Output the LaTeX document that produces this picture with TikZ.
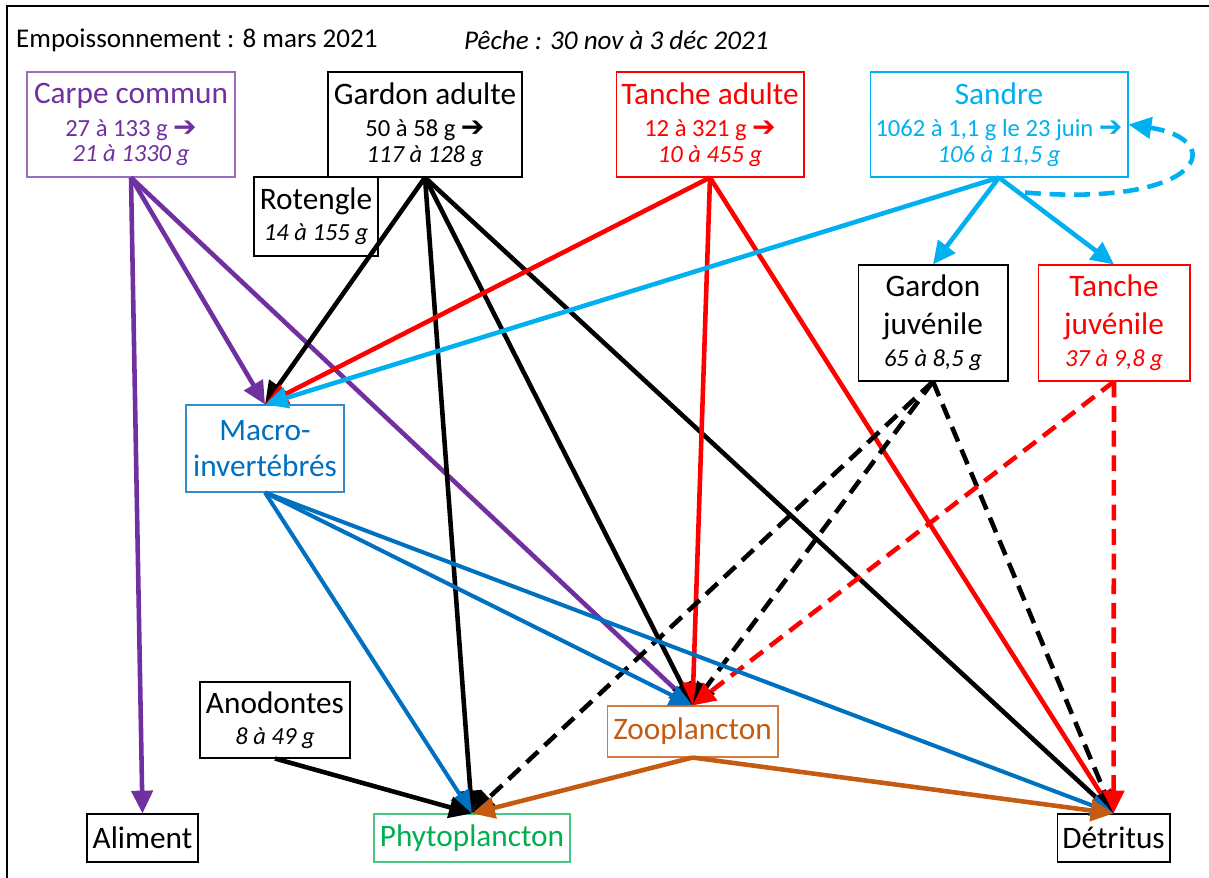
\documentclass[tikz,border=0pt]{standalone}
\usepackage{fontspec}
\setmainfont{Carlito}
\newfontfamily\dejavu{DejaVu Sans}
\usetikzlibrary{arrows.meta}

\definecolor{violetC}{RGB}{112,48,160}
\definecolor{rougeT}{RGB}{255,0,0}
\definecolor{cyanS}{RGB}{0,176,240}
\definecolor{bleuM}{RGB}{0,112,192}
\definecolor{brunZ}{RGB}{197,90,17}
\definecolor{vertP}{RGB}{0,176,80}

\newcommand{\titre}[1]{{\fontsize{17.8}{21}\selectfont #1}}
\newcommand{\fleche}{{\dejavu\bfseries\fontsize{16}{14}\selectfont ➔}}

\begin{document}
\begin{tikzpicture}[x=0.02cm, y=-0.02cm,
  boite/.style={draw, fill=white, line width=0.6pt, align=center, inner sep=1pt,
    font=\fontsize{14}{14.5}\selectfont},
  fl/.style={-{Triangle[length=13pt,width=12pt]}, line width=2.6pt},
  tirets/.style={dash pattern=on 9pt off 5pt}]
\useasboundingbox (0,0) rectangle (1209,878);
\draw[line width=1.2pt] (1209,6) -- (7,6) -- (7,878);

\node[anchor=west, font=\fontsize{15.4}{18}\selectfont] (empo) at (10,40) {Empoissonnement : 8 mars 2021};
\node[anchor=west, font=\fontsize{15.4}{18}\selectfont\itshape] (peche) at (458,40) {Pêche : 30 nov à 3 déc 2021};

% poissons
\node[boite, draw=violetC!70, text=violetC, minimum width=4.16cm, minimum height=2.1cm] (carpe) at (131,124.5)
  {\titre{Carpe commun}\\[4pt] 27 à 133 g \fleche\\ \textit{21 à 1330 g}};
\node[boite, minimum width=3.88cm, minimum height=2.1cm] (gardon) at (425,124.5)
  {\titre{Gardon adulte}\\[4pt] 50 à 58 g \fleche\\ \textit{117 à 128 g}};
\node[boite, draw=rougeT, text=rougeT, minimum width=3.76cm, minimum height=2.1cm] (tanche) at (710,124.5)
  {\titre{Tanche adulte}\\[4pt] 12 à 321 g \fleche\\ \textit{10 à 455 g}};
\node[boite, draw=cyanS, text=cyanS, minimum width=5.16cm, minimum height=2.1cm] (sandre) at (999,124.5)
  {\titre{Sandre}\\[4pt] 1062 à 1,1 g le 23 juin \fleche\\ \textit{106 à 11,5 g}};
\node[boite, minimum width=2.48cm, minimum height=1.58cm] (rotengle) at (316,216.5)
  {\titre{Rotengle}\\[3pt] \textit{14 à 155 g}};
\node[boite, minimum width=3cm, minimum height=2.32cm] (gjuv) at (933,323)
  {\titre{Gardon}\\[7pt] \titre{juvénile}\\[4pt] \textit{65 à 8,5 g}};
\node[boite, draw=rougeT, text=rougeT, minimum width=3.04cm, minimum height=2.32cm] (tjuv) at (1114,323)
  {\titre{Tanche}\\[7pt] \titre{juvénile}\\[4pt] \textit{37 à 9,8 g}};

% ressources
\node[boite, draw=bleuM!80, text=bleuM, minimum width=3.16cm, minimum height=1.74cm] (macro) at (265,448.5)
  {\titre{Macro-}\\[6pt] \titre{invertébrés}};
\node[boite, minimum width=3cm, minimum height=1.52cm] (anodontes) at (275,720)
  {\titre{Anodontes}\\[3pt] \textit{8 à 49 g}};
\node[boite, draw=brunZ!80, text=brunZ, minimum width=3.42cm, minimum height=1.02cm] (zoo) at (692.5,731.5)
  {\titre{Zooplancton}};
\node[boite, minimum width=2.22cm, minimum height=0.96cm] (aliment) at (142.5,838) {\titre{Aliment}};
\node[boite, draw=vertP!70, text=vertP, minimum width=3.92cm, minimum height=0.96cm] (phyto) at (472,838)
  {\titre{Phytoplancton}};
\node[boite, minimum width=2.26cm, minimum height=0.96cm] (detritus) at (1113.5,838) {\titre{Détritus}};

% carpe
\draw[fl, violetC] (carpe.south) -- (aliment.north);
\draw[fl, violetC] (carpe.south) -- (macro.north);
\draw[fl, violetC] (carpe.south) -- (zoo.north);
% gardon adulte
\draw[fl] (gardon.south) -- (macro.north);
\draw[fl] (gardon.south) -- (phyto.north);
\draw[fl] (gardon.south) -- (zoo.north);
\draw[fl] (gardon.south) -- (detritus.north);
% tanche adulte
\draw[fl, rougeT] (tanche.south) -- (macro.north);
\draw[fl, rougeT] (tanche.south) -- (zoo.north);
\draw[fl, rougeT] (tanche.south) -- (detritus.north);
% sandre
\draw[fl, cyanS] (sandre.south) -- (macro.north);
\draw[fl, cyanS] (sandre.south) -- (gjuv.north);
\draw[fl, cyanS] (sandre.south) -- (tjuv.north);
\draw[fl, cyanS, tirets] ([shift={(26,15)}]sandre.south) .. controls +(180,15) and +(100,15) .. (sandre.east);
% juveniles
\draw[fl, tirets] (gjuv.south) -- (phyto.north);
\draw[fl, tirets] (gjuv.south) -- (zoo.north);
\draw[fl, tirets] (gjuv.south) -- (detritus.north);
\draw[fl, rougeT, tirets] (tjuv.south) -- (zoo.north);
\draw[fl, rougeT, tirets] (tjuv.south) -- (detritus.north);
% macro-invertebres
\draw[fl, bleuM, line width=2.3pt] (macro.south) -- (phyto.north);
\draw[fl, bleuM, line width=2.3pt] (macro.south) -- (zoo.north);
\draw[fl, bleuM, line width=2.3pt] (macro.south) -- (detritus.north);
% anodontes et zooplancton
\draw[fl] (anodontes.south) -- (phyto.north);
\draw[fl, brunZ] (zoo.south) -- (phyto.north);
\draw[fl, brunZ] (zoo.south) -- (detritus.north);
\end{tikzpicture}
\end{document}
